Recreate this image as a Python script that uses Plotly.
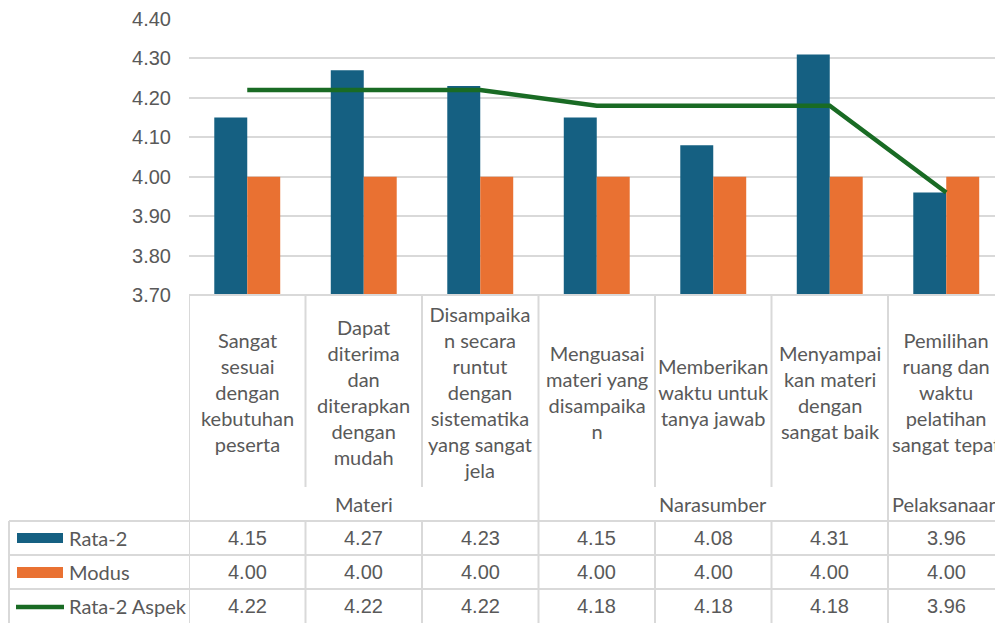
import plotly.graph_objects as go

categories = [
    "Sangat<br>sesuai<br>dengan<br>kebutuhan<br>peserta",
    "Dapat<br>diterima<br>dan<br>diterapkan<br>dengan<br>mudah",
    "Disampaika<br>n secara<br>runtut<br>dengan<br>sistematika<br>yang sangat<br>jela",
    "Menguasai<br>materi yang<br>disampaika<br>n",
    "Memberikan<br>waktu untuk<br>tanya jawab",
    "Menyampai<br>kan materi<br>dengan<br>sangat baik",
    "Pemilihan<br>ruang dan<br>waktu<br>pelatihan<br>sangat tepat",
]
groups = ["Materi", "Narasumber", "Pelaksanaan"]
group_sizes = [3, 3, 1]
series_names = ["Rata-2", "Modus", "Rata-2 Aspek"]
rata2 = [4.15, 4.27, 4.23, 4.15, 4.08, 4.31, 3.96]
modus = [4.00, 4.00, 4.00, 4.00, 4.00, 4.00, 4.00]
rata2_aspek = [4.22, 4.22, 4.22, 4.18, 4.18, 4.18, 3.96]
y_ticks = [3.70, 3.80, 3.90, 4.00, 4.10, 4.20, 4.30, 4.40]

BLUE, ORANGE, GREEN = "#156082", "#E97132", "#196B24"
TXT = "#595959"
GRID = "#D9D9D9"
BORDER = "#D9D9D9"
TEXT_FONT = "Lato"
NUM_FONT = "Liberation Sans"

W, H = 995, 623
PL, PT, PB_PX = 189, 19, 295
plot_h = PB_PX - PT
plot_w = W - PL
cat_px = 116.5

def py(p):  # pixel row -> paper y
    return (PB_PX - p) / plot_h

def px(p):  # pixel column -> paper x
    return (p - PL) / plot_w

xs = list(range(len(categories)))

fig = go.Figure()
fig.add_trace(go.Bar(x=xs, y=rata2, name=series_names[0], marker=dict(color=BLUE, line=dict(width=0))))
fig.add_trace(go.Bar(x=xs, y=modus, name=series_names[1], marker=dict(color=ORANGE, line=dict(width=0))))
fig.add_trace(go.Scatter(x=xs, y=rata2_aspek, name=series_names[2], mode="lines",
                         line=dict(color=GREEN, width=4.5)))

shapes = []
annotations = []

# category labels
for i, c in enumerate(categories):
    annotations.append(dict(x=i, xref="x", y=py(392), yref="paper", text=c, showarrow=False,
                            xanchor="center", yanchor="middle", align="center",
                            font=dict(family=TEXT_FONT, size=20, color=TXT)))

# group labels and boundaries
group_starts = set()
start = 0
for g, n in zip(groups, group_sizes):
    group_starts.add(start)
    mid = start + (n - 1) / 2
    annotations.append(dict(x=mid, xref="x", y=py(504), yref="paper", text=g, showarrow=False,
                            xanchor="center", yanchor="middle",
                            font=dict(family=TEXT_FONT, size=20, color=TXT)))
    start += n

for b in range(len(categories) + 1):
    xb = b - 0.5
    if b in group_starts or b == len(categories):
        shapes.append(dict(type="line", xref="x", yref="paper", x0=xb, x1=xb, y0=py(PB_PX), y1=py(630),
                           line=dict(color=BORDER, width=2)))
    else:
        shapes.append(dict(type="line", xref="x", yref="paper", x0=xb, x1=xb, y0=py(PB_PX), y1=py(487),
                           line=dict(color=BORDER, width=2)))
        shapes.append(dict(type="line", xref="x", yref="paper", x0=xb, x1=xb, y0=py(521), y1=py(630),
                           line=dict(color=BORDER, width=2)))

# table horizontal lines
for r in [521, 555, 589]:
    shapes.append(dict(type="line", xref="paper", yref="paper", x0=px(9), x1=1.02, y0=py(r), y1=py(r),
                       line=dict(color=BORDER, width=2)))
# table left border
shapes.append(dict(type="line", xref="paper", yref="paper", x0=px(9), x1=px(9), y0=py(521), y1=py(630),
                   line=dict(color=BORDER, width=2)))

# table rows
row_y = [538, 572, 606]
rows = [rata2, modus, rata2_aspek]
for ry, vals, name in zip(row_y, rows, series_names):
    for i, v in enumerate(vals):
        annotations.append(dict(x=i, xref="x", y=py(ry), yref="paper", text=f"{v:.2f}", showarrow=False,
                                xanchor="center", yanchor="middle",
                                font=dict(family=NUM_FONT, size=20, color=TXT)))
    annotations.append(dict(x=px(67), xref="paper", y=py(ry), yref="paper", text=name, showarrow=False,
                            xanchor="left", yanchor="middle",
                            font=dict(family=TEXT_FONT, size=20, color=TXT)))

# legend keys
shapes.append(dict(type="rect", xref="paper", yref="paper", x0=px(17), x1=px(63), y0=py(543), y1=py(533),
                   fillcolor=BLUE, line=dict(width=0)))
shapes.append(dict(type="rect", xref="paper", yref="paper", x0=px(17), x1=px(63), y0=py(578), y1=py(567),
                   fillcolor=ORANGE, line=dict(width=0)))
shapes.append(dict(type="line", xref="paper", yref="paper", x0=px(16), x1=px(64), y0=py(607), y1=py(607),
                   line=dict(color=GREEN, width=4.5)))

fig.update_layout(
    width=W, height=H,
    margin=dict(l=PL, r=0, t=PT, b=H - PB_PX, pad=0),
    paper_bgcolor="white", plot_bgcolor="white",
    barmode="group", bargap=0.434, bargroupgap=0,
    showlegend=False,
    shapes=shapes, annotations=annotations,
    xaxis=dict(range=[-0.5, -0.5 + plot_w / cat_px], showticklabels=False, showgrid=False,
               zeroline=False, showline=False, ticks=""),
    yaxis=dict(range=[3.70, 4.40], tickvals=y_ticks, ticktext=[f"{t:.2f}" for t in y_ticks],
               showgrid=True, gridcolor=GRID, gridwidth=2, zeroline=False,
               showline=False, ticks="", ticklabelstandoff=17,
               tickfont=dict(family=NUM_FONT, size=20, color=TXT)),
)
# bottom axis line
fig.add_shape(type="line", xref="paper", yref="paper", x0=0, x1=1, y0=0, y1=0,
              line=dict(color=BORDER, width=2))

fig.write_html("out.html", config={"displayModeBar": False},
               post_script="document.body.style.margin='0';document.body.style.overflow='hidden';")
